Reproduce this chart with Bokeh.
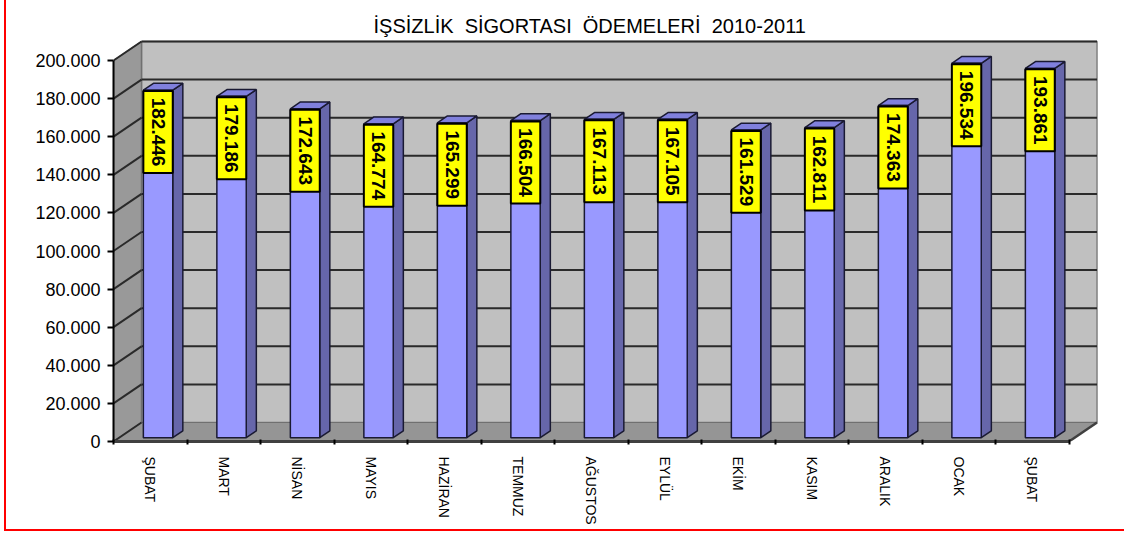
from bokeh.plotting import figure
from bokeh.models import Range1d, FixedTicker, LinearAxis, Title
from bokeh.core.properties import value
from bokeh.embed import file_html
from bokeh.resources import INLINE
import math

# ---------------- data ----------------
categories = ["ŞUBAT", "MART", "NİSAN", "MAYIS", "HAZİRAN", "TEMMUZ", "AĞUSTOS",
              "EYLÜL", "EKİM", "KASIM", "ARALIK", "OCAK", "ŞUBAT"]
values = [182446, 179186, 172643, 164774, 165299, 166504, 167113,
          167105, 161529, 162811, 174363, 196534, 193861]
value_labels = ["182.446", "179.186", "172.643", "164.774", "165.299", "166.504", "167.113",
                "167.105", "161.529", "162.811", "174.363", "196.534", "193.861"]
y_ticks = [0, 20000, 40000, 60000, 80000, 100000, 120000, 140000, 160000, 180000, 200000]
y_tick_labels = ["0", "20.000", "40.000", "60.000", "80.000", "100.000", "120.000",
                 "140.000", "160.000", "180.000", "200.000"]
title_text = "İŞSİZLİK\u00a0\u00a0SİGORTASI\u00a0\u00a0ÖDEMELERİ\u00a0\u00a02010-2011"

# ---------------- geometry (oblique 3D projection) ----------------
N = len(categories)
YMAX = y_ticks[-1]
DX = 0.381      # depth offset in category units
DY = 9975.0     # depth offset in value units
Z0 = 0.2        # bar front depth
BD = 0.36       # bar depth
BW = 0.40       # bar width
FONT = "Liberation Sans"

p = figure(width=1120, height=531,
           x_range=Range1d(0, 13.442), y_range=Range1d(0, 211024),
           output_backend="svg", toolbar_location=None,
           min_border_left=107, min_border_right=25,
           min_border_top=39, min_border_bottom=90)
p.styles = {"border-left": "2px solid #ff0000", "border-bottom": "2px solid #ff0000",
            "margin-left": "4px"}
p.xaxis.visible = False
p.yaxis.visible = False
p.grid.visible = False
p.outline_line_color = None
p.background_fill_color = "white"
p.border_fill_color = "white"

# back wall
p.patch([DX, N + DX, N + DX, DX], [DY, DY, YMAX + DY, YMAX + DY],
        fill_color="#c0c0c0", line_color="#808080", line_width=1.5)
# left wall
p.patch([0, DX, DX, 0], [0, DY, YMAX + DY, YMAX],
        fill_color="#999999", line_color="#707070", line_width=1.5)
# floor
p.patch([0, N, N + DX, DX], [0, 0, DY, DY],
        fill_color="#959595", line_color="#707070", line_width=1)

# gridlines on back wall and left wall
gx0, gx1, gy0, gy1 = [], [], [], []
for t in y_ticks[1:]:
    gx0.append(DX); gy0.append(t + DY); gx1.append(N + DX); gy1.append(t + DY)
for t in y_ticks:
    gx0.append(0); gy0.append(t); gx1.append(DX); gy1.append(t + DY)
p.segment(gx0, gy0, gx1, gy1, line_color="#2a2a2a", line_width=2)

# floor right edge
p.segment([N], [0], [N + DX], [DY], line_color="#404040", line_width=2.5)

# bars
fx, fy, sx, sy, tx, ty = [], [], [], [], [], []
for i, v in enumerate(values):
    x0 = i + 0.53 - BW / 2 + Z0 * DX
    x1 = x0 + BW
    yb = Z0 * DY
    yt = v + Z0 * DY
    ddx, ddy = BD * DX, BD * DY
    fx.append([x0, x1, x1, x0]); fy.append([yb, yb, yt, yt])
    sx.append([x1, x1 + ddx, x1 + ddx, x1]); sy.append([yb, yb + ddy, yt + ddy, yt])
    tx.append([x0, x1, x1 + ddx, x0 + ddx]); ty.append([yt, yt, yt + ddy, yt + ddy])
p.patches(sx, sy, fill_color="#6666aa", line_color="#1a1a33", line_width=1.5)
p.patches(tx, ty, fill_color="#8080dd", line_color="#1a1a33", line_width=1.5)
p.patches(fx, fy, fill_color="#9999ff", line_color="#1a1a33", line_width=1.5)

# value labels
lx = [i + 0.53 + Z0 * DX for i in range(N)]
ly = [v + Z0 * DY - 22000 for v in values]
p.rect(lx, ly, width=BW, height=43000, fill_color="#ffff00", line_color="black", line_width=2)
p.text(lx, ly, text=value_labels, angle=-math.pi / 2, text_align="center",
       text_baseline="middle", text_font=value(FONT), text_font_style="bold",
       text_font_size="19px", text_color="black")

# y axis
yax = LinearAxis(ticker=FixedTicker(ticks=y_ticks),
                 major_label_overrides={t: l for t, l in zip(y_ticks, y_tick_labels)},
                 bounds=(0, YMAX))
yax.axis_line_color = "black"
yax.axis_line_width = 2
yax.major_tick_out = 6
yax.major_tick_in = 0
yax.major_tick_line_width = 2
yax.minor_tick_out = 0
yax.minor_tick_in = 0
yax.major_label_standoff = 7
yax.major_label_text_font = FONT
yax.major_label_text_font_size = "18px"
yax.major_label_text_color = "black"
p.add_layout(yax, "left")

# x axis
centers = [i + 0.5 for i in range(N)]
xax = LinearAxis(ticker=FixedTicker(ticks=centers, minor_ticks=list(range(N + 1))),
                 major_label_overrides={c: n for c, n in zip(centers, categories)},
                 bounds=(0, N))
xax.axis_line_color = "#404040"
xax.axis_line_width = 3
xax.major_tick_out = 0
xax.major_tick_in = 0
xax.minor_tick_in = 2
xax.minor_tick_out = 3
xax.minor_tick_line_color = "black"
xax.minor_tick_line_width = 2
xax.major_label_orientation = "vertical"
xax.major_label_standoff = 12
xax.major_label_text_font = FONT
xax.major_label_text_font_size = "14px"
xax.major_label_text_color = "black"
p.add_layout(xax, "below")

# title
p.add_layout(Title(text=title_text, align="left", offset=260, text_font=FONT,
                   text_font_size="20px", text_font_style="normal",
                   text_color="black", standoff=6), "above")

open("out.html", "w").write(file_html(p, INLINE))
